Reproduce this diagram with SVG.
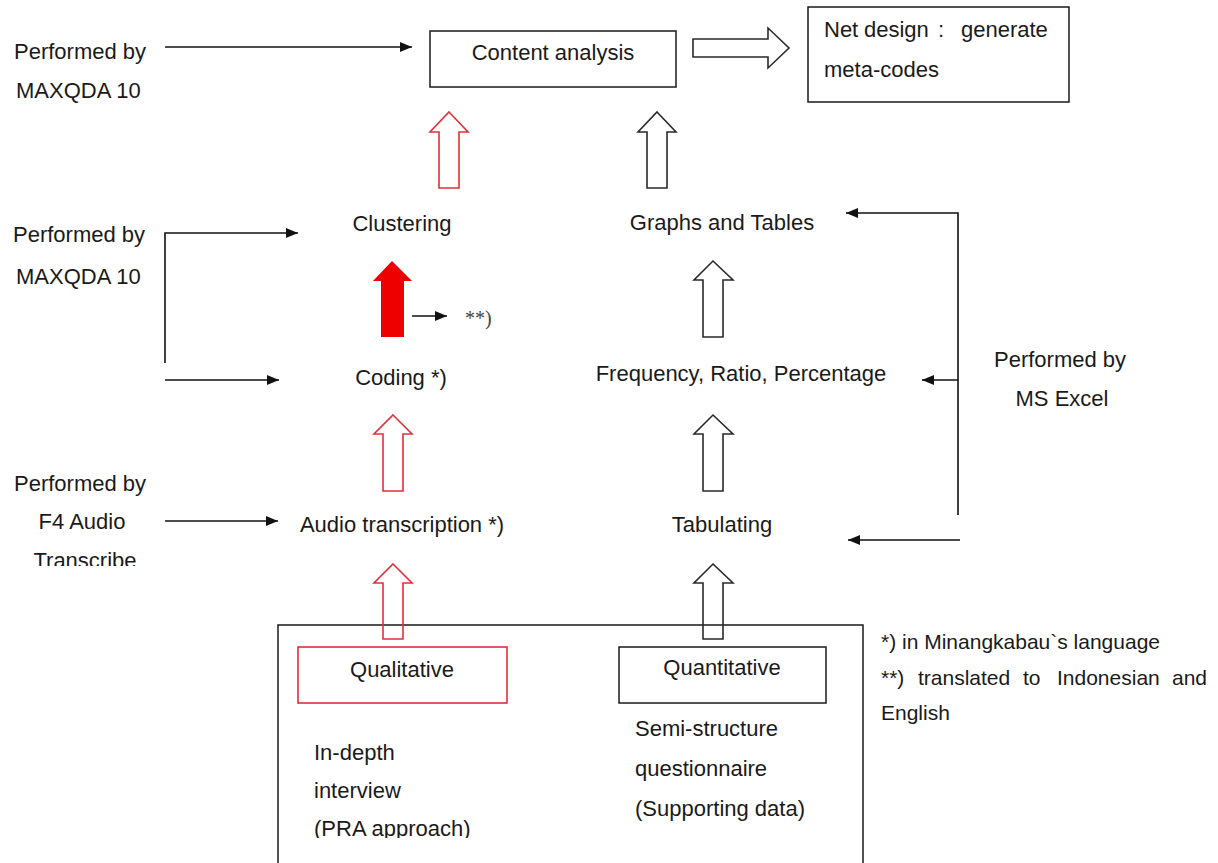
<svg xmlns="http://www.w3.org/2000/svg" width="1218" height="863" viewBox="0 0 1218 863">
  <defs>
    <style>
      text { font-family: "Liberation Sans", Arial, sans-serif; font-size: 22px; fill: #1a1a1a; }
      .mid { text-anchor: middle; }
      .note { font-size: 21px; }
      .box { fill: #ffffff; stroke: #1a1a1a; stroke-width: 1.5; }
      .redbox { fill: #ffffff; stroke: #d9232e; stroke-width: 1.5; }
      .line { fill: none; stroke: #111111; stroke-width: 1.6; }
      .hollow { fill: none; stroke: #2a2a2a; stroke-width: 1.6; stroke-linejoin: miter; }
      .hollow-red { fill: none; stroke: #e0303a; stroke-width: 1.6; stroke-linejoin: miter; }
    </style>
    <marker id="head" markerWidth="12" markerHeight="10" refX="12" refY="5" orient="auto" markerUnits="userSpaceOnUse">
      <path d="M0,0 L12,5 L0,10 Z" fill="#111111"/>
    </marker>
    <clipPath id="clipTranscribe"><rect x="0" y="540" width="200" height="26"/></clipPath>
    <clipPath id="clipPra"><rect x="300" y="810" width="220" height="28"/></clipPath>
  </defs>

  <rect width="1218" height="863" fill="#ffffff"/>

  <!-- source data frame -->
  <g id="sources">
    <rect class="box" x="278" y="625" width="585" height="250"/>
  </g>

  <!-- connectors: tool annotations and flow arrows -->
  <g id="connectors">
    <line class="line" x1="165" y1="47" x2="412" y2="47" marker-end="url(#head)"/>
    <polyline class="line" points="165,363 165,233 298,233" marker-end="url(#head)"/>
    <line class="line" x1="165" y1="380" x2="279" y2="380" marker-end="url(#head)"/>
    <line class="line" x1="165" y1="521" x2="278" y2="521" marker-end="url(#head)"/>
    <polyline class="line" points="958,515 958,213 846,213" marker-end="url(#head)"/>
    <line class="line" x1="958" y1="380" x2="922" y2="380" marker-end="url(#head)"/>
    <line class="line" x1="960" y1="540" x2="848" y2="540" marker-end="url(#head)"/>
    <line class="line" x1="412" y1="316" x2="447" y2="316" marker-end="url(#head)"/>

    <!-- block arrows -->
    <polygon class="hollow" points="693,39 768,39 768,28 789,48 768,68 768,57 693,57"/>
    <polygon class="hollow-red" points="449,112 468,132 459,132 459,188 439,188 439,132 430,132"/>
    <polygon class="hollow" points="657,112 676,132 667,132 667,188 647,188 647,132 638,132"/>
    <polygon fill="#ee0000" points="392,261 412,281 404,281 404,337 381,337 381,281 373,281"/>
    <polygon class="hollow" points="713,261 733,280 723,280 723,337 703,337 703,280 694,280"/>
    <polygon class="hollow-red" points="393,415 412,434 403,434 403,491 383,491 383,434 374,434"/>
    <polygon class="hollow" points="713,415 733,434 723,434 723,491 703,491 703,434 694,434"/>
    <polygon class="hollow-red" points="393,564 412,583 403,583 403,639 383,639 383,583 374,583"/>
    <polygon class="hollow" points="713,564 733,583 723,583 723,639 703,639 703,583 694,583"/>
  </g>

  <g id="tool-maxqda-top">
    <text x="14" y="59">Performed by</text>
    <text x="16" y="98">MAXQDA 10</text>
  </g>

  <g id="content-analysis">
    <rect class="box" x="430" y="31" width="246" height="56"/>
    <text class="mid" x="553" y="60">Content analysis</text>
  </g>

  <g id="net-design">
    <rect class="box" x="808" y="7" width="261" height="95"/>
    <text y="37"><tspan x="824">Net</tspan><tspan x="864">design</tspan><tspan x="938">:</tspan><tspan x="961">generate</tspan></text>
    <text x="824" y="77">meta-codes</text>
  </g>

  <g id="tool-maxqda-mid">
    <text x="13" y="242">Performed by</text>
    <text x="16" y="284">MAXQDA 10</text>
  </g>

  <g id="clustering">
    <text class="mid" x="402" y="231">Clustering</text>
  </g>

  <g id="translation-note">
    <text x="465" y="325" style="font-family: 'Liberation Serif', 'Times New Roman', serif; font-size: 20px; fill: #444444;">**)</text>
  </g>

  <g id="coding">
    <text class="mid" x="401" y="385">Coding *)</text>
  </g>

  <g id="graphs-tables">
    <text class="mid" x="722" y="230">Graphs and Tables</text>
  </g>

  <g id="frequency">
    <text class="mid" x="741" y="381">Frequency, Ratio, Percentage</text>
  </g>

  <g id="tool-excel">
    <text x="994" y="367">Performed by</text>
    <text class="mid" x="1062" y="406">MS Excel</text>
  </g>

  <g id="tool-f4">
    <text x="14" y="491">Performed by</text>
    <text class="mid" x="82" y="529">F4 Audio</text>
    <text class="mid" x="85" y="568" clip-path="url(#clipTranscribe)">Transcribe</text>
  </g>

  <g id="audio-transcription">
    <text class="mid" x="402" y="532">Audio transcription *)</text>
  </g>

  <g id="tabulating">
    <text class="mid" x="722" y="532">Tabulating</text>
  </g>

  <g id="qualitative">
    <rect class="redbox" x="298" y="647" width="209" height="56"/>
    <text class="mid" x="402" y="677">Qualitative</text>
    <text x="314" y="760">In-depth</text>
    <text x="314" y="798">interview</text>
    <text x="314" y="836" clip-path="url(#clipPra)">(PRA approach)</text>
  </g>

  <g id="quantitative">
    <rect class="box" x="619" y="647" width="207" height="56"/>
    <text class="mid" x="722" y="675">Quantitative</text>
    <text x="635" y="736">Semi-structure</text>
    <text x="635" y="776">questionnaire</text>
    <text x="635" y="816">(Supporting data)</text>
  </g>

  <g id="footnotes">
    <text class="note" x="881" y="649">*) in Minangkabau`s language</text>
    <text class="note" y="685"><tspan x="881">**)</tspan><tspan x="918">translated</tspan><tspan x="1023">to</tspan><tspan x="1057">Indonesian</tspan><tspan x="1172">and</tspan></text>
    <text class="note" x="881" y="720">English</text>
  </g>
</svg>
